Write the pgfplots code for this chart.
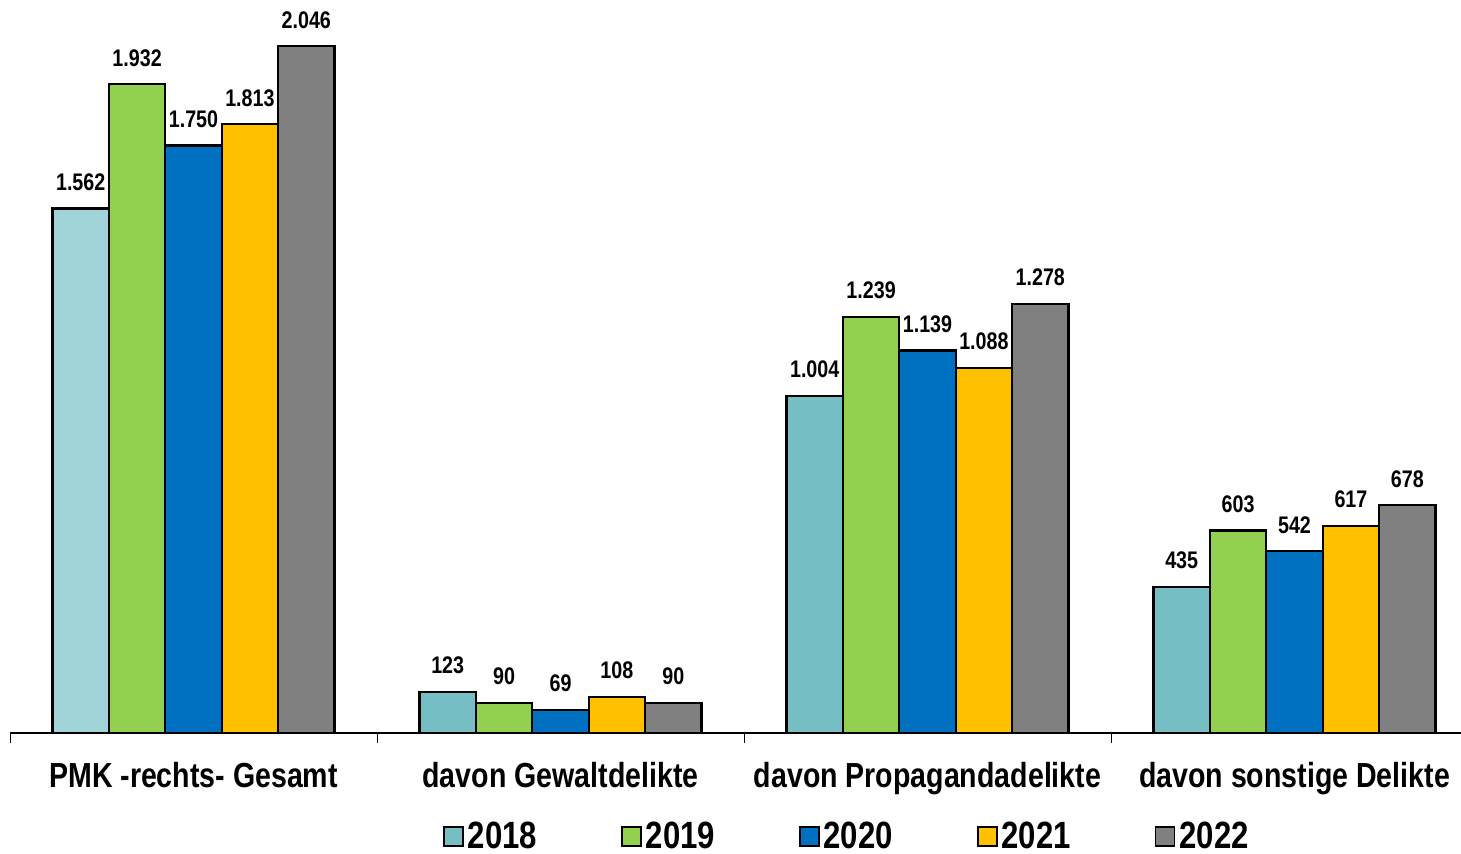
\documentclass[border=0pt]{standalone}
\usepackage{pgfplots}
\pgfplotsset{compat=1.18}
\usepackage{fontspec}
\setmainfont{Liberation Sans}[FakeStretch=0.82]
\definecolor{c18a}{HTML}{A1D4D8}
\definecolor{c18}{HTML}{75BFC4}
\definecolor{c19}{HTML}{92D050}
\definecolor{c20}{HTML}{0070C0}
\definecolor{c21}{HTML}{FFC000}
\definecolor{c22}{HTML}{808080}
\begin{document}
\begin{tikzpicture}[font=\bfseries]
\useasboundingbox (0,0) rectangle (730.5pt,-426.5pt);
\begin{axis}[
  at={(5pt,-366.5pt)}, anchor=south west,
  scale only axis, width=725.5pt, height=366.5pt,
  xmin=-0.5, xmax=3.4537, ymin=0, ymax=2183,
  axis x line*=bottom, axis y line=none,
  clip=false,
  ybar, bar width=0.1537,
  xtick={-0.5,0.5,1.5,2.5}, xticklabels={},
  tick align=outside, major tick length=5pt,
  tick style={black, line width=0.5pt},
  x axis line style={black, line width=0.7pt},
  extra x ticks={0,1,2,3},
  extra x tick labels={PMK -rechts- Gesamt, davon Gewaltdelikte, davon Propagandadelikte, davon sonstige Delikte},
  extra x tick style={major tick length=0pt, xticklabel style={font=\fontsize{17.4}{19}\selectfont\bfseries, anchor=base, yshift=-27pt}},
  /pgf/number format/.cd, 1000 sep={.}, assume math mode=true, /pgfplots/.cd,
  nodes near coords, nodes near coords style={font=\fontsize{12}{14}\selectfont\bfseries, anchor=base, yshift=9pt, black},
  every axis plot/.append style={draw=black, line width=1.1pt},
  legend style={at={(0.5775,-0.141)}, anchor=center, draw=none, fill=none, legend columns=5,
    font=\fontsize{19}{21}\selectfont\bfseries, nodes={inner ysep=0.5pt},
    /tikz/every even column/.append style={column sep=40pt}},
  legend image code/.code={\draw[#1, line width=0.8pt, draw=black] (0pt,-4.75pt) rectangle (9.5pt,4.75pt);},
]
\addplot[fill=c18a, bar shift=-0.3074, forget plot] coordinates {(0,1562)};
\addplot[fill=c18, bar shift=-0.3074] coordinates {(1,123) (2,1004) (3,435)};
\addplot[fill=c19, bar shift=-0.1537] coordinates {(0,1932) (1,90) (2,1239) (3,603)};
\addplot[fill=c20, bar shift=0] coordinates {(0,1750) (1,69) (2,1139) (3,542)};
\addplot[fill=c21, bar shift=0.1537] coordinates {(0,1813) (1,108) (2,1088) (3,617)};
\addplot[fill=c22, bar shift=0.3074] coordinates {(0,2046) (1,90) (2,1278) (3,678)};
\legend{2018,2019,2020,2021,2022}
\end{axis}
\end{tikzpicture}
\end{document}
